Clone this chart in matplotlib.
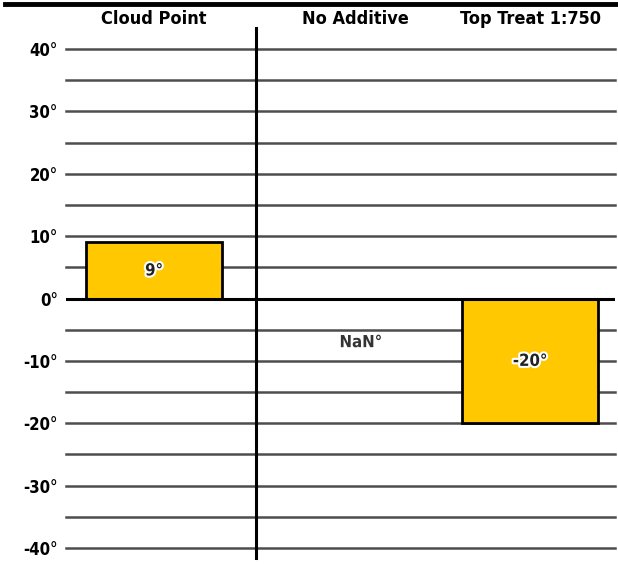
import numpy as np
import matplotlib.pyplot as plt
import matplotlib.patheffects as pe
from matplotlib.lines import Line2D

categories = ['Cloud Point', 'No Additive', 'Top Treat 1:750']
values = [9, np.nan, -20]
tick_values = [40, 30, 20, 10, 0, -10, -20, -30, -40]

plt.rcParams['font.family'] = ['DejaVu Sans']
plt.rcParams['font.weight'] = 'bold'
plt.rcParams['font.stretch'] = 'condensed'

fig = plt.figure(figsize=(6.18, 5.64), dpi=100)
ax = fig.add_axes([66 / 618, 1 - 548 / 564, (615 - 66) / 618, (548 - 49) / 564])

x = np.arange(len(categories))
for yv in np.arange(-40, 41, 5):
    if yv == 0:
        continue
    ax.axhline(yv, color='#4d4d4d', lw=1.8, zorder=1, clip_on=False)

vals = np.array(values, dtype=float)
ax.bar(x, np.nan_to_num(vals), width=0.72, color='#ffc800', edgecolor='black',
       linewidth=2, zorder=2)
ax.axhline(0, color='black', lw=2.2, zorder=3)

halo = [pe.withStroke(linewidth=3, foreground='white')]
for xi, v in zip(x, values):
    if np.isnan(v):
        ax.text(xi + 0.1, -7, 'NaN°', ha='center', va='center', fontsize=12,
                color='#333333', path_effects=halo, zorder=4)
    else:
        ax.text(xi, v / 2, '%d°' % v, ha='center', va='center', fontsize=12,
                color='#222222', path_effects=halo, zorder=4)

ax.set_xlim(-0.468, 2.452)
ax.set_ylim(-40, 40)
ax.set_yticks(tick_values)
ax.set_yticklabels(['%d°' % t for t in tick_values], fontsize=12)
ax.tick_params(axis='y', length=0, pad=6)
ax.set_xticks([])
for s in ax.spines.values():
    s.set_visible(False)

# category headers
for xi, name in zip(x, categories):
    off = 0.07 if xi == 1 else 0
    ax.annotate(name, xy=(xi + off, 40), xytext=(0, 15), textcoords='offset points',
                ha='center', va='bottom', fontsize=13, annotation_clip=False)

# divider line and top rule
ax.add_line(Line2D([0.543, 0.543], [-41.6, 43.4], color='black', lw=2.2, clip_on=False))
fig.add_artist(Line2D([5 / 618, 1.0], [1 - 4 / 564, 1 - 4 / 564], color='black', lw=3.5))

fig.savefig('out.png', dpi=100)
